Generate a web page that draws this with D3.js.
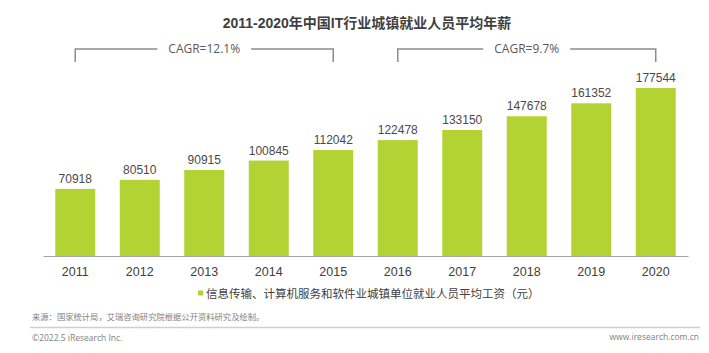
<!DOCTYPE html>
<html>
<head>
<meta charset="utf-8">
<script src="https://cdn.jsdelivr.net/npm/d3@7"></script>
<style>
  body { margin: 0; background: #fff; }
  svg { display: block; font-family: "Liberation Sans", Arial, "Noto Sans CJK SC", sans-serif; }
</style>
</head>
<body>
<div id="chart"></div>
<script>
// chart values
const years = ['2011', '2012', '2013', '2014', '2015', '2016', '2017', '2018', '2019', '2020'];
const salary = [70918, 80510, 90915, 100845, 112042, 122478, 133150, 147678, 161352, 177544];
const cagrLabels = ['CAGR=12.1%', 'CAGR=9.7%'];
const cagrSpans = [['2011', '2015'], ['2016', '2020']];

const title = '2011-2020年中国IT行业城镇就业人员平均年薪';
const legendLabel = '信息传输、计算机服务和软件业城镇单位就业人员平均工资（元）';
const sourceNote = '来源：国家统计局，艾瑞咨询研究院根据公开资料研究及绘制。';

const width = 709, height = 353;
const green = '#b3d234';
const cjk = '"Noto Sans CJK SC", "Liberation Sans", sans-serif';

const svg = d3.select('#chart').append('svg')
    .attr('width', width)
    .attr('height', height);

// scales
const x = d3.scaleBand()
    .domain(years)
    .range([43, 688])
    .paddingInner(0.38)
    .paddingOuter(0.19);
const y = d3.scaleLinear()
    .domain([0, 177544])
    .range([256, 88]);

// title
svg.append('text')
    .attr('x', 367).attr('y', 28)
    .attr('text-anchor', 'middle')
    .attr('font-family', '"Liberation Sans", Arial, "Noto Sans CJK SC", sans-serif')
    .attr('font-size', 14)
    .attr('font-weight', 'bold')
    .attr('fill', '#3f3f3f')
    .text(title);

// bars
svg.append('g').selectAll('rect')
    .data(salary)
    .join('rect')
    .attr('x', (d, i) => x(years[i]))
    .attr('y', d => y(d))
    .attr('width', x.bandwidth())
    .attr('height', d => y(0) - y(d))
    .attr('fill', green);

// value labels
svg.append('g').selectAll('text')
    .data(salary)
    .join('text')
    .attr('x', (d, i) => x(years[i]) + x.bandwidth() / 2)
    .attr('y', d => y(d) - 6)
    .attr('text-anchor', 'middle')
    .attr('font-size', 12)
    .attr('fill', '#4a4a4a')
    .text(d => d);

// x axis
const xAxis = svg.append('g')
    .attr('transform', `translate(0,${y(0)})`)
    .call(d3.axisBottom(x).tickSize(0).tickPadding(11));
xAxis.select('.domain').attr('stroke', '#a6a6a6').attr('stroke-width', 1.2);
xAxis.selectAll('text')
    .attr('font-size', 12.5)
    .attr('font-family', '"Liberation Sans", Arial, sans-serif')
    .attr('fill', '#404040');

// CAGR brackets
const bracketY = 49, tickY = 62;
cagrSpans.forEach(([a, b], i) => {
    const x0 = x(a) + x.bandwidth() / 2;
    const x1 = x(b) + x.bandwidth() / 2;
    const mid = (x0 + x1) / 2;
    const g = svg.append('g');
    const label = g.append('text')
        .attr('x', mid).attr('y', bracketY + 4)
        .attr('text-anchor', 'middle')
        .attr('font-family', '"Open Sans", "Noto Sans", sans-serif')
        .attr('font-size', 12)
        .attr('fill', '#5a5a5a')
        .text(cagrLabels[i]);
    const half = label.node().getComputedTextLength() / 2 + 11;
    g.append('path')
        .attr('d', `M${x0},${tickY}V${bracketY}H${mid - half}M${mid + half},${bracketY}H${x1}V${tickY}`)
        .attr('fill', 'none')
        .attr('stroke', '#8c8c8c')
        .attr('stroke-width', 1.5);
});

// legend
const legend = svg.append('g').attr('transform', 'translate(198,293)');
legend.append('rect')
    .attr('x', 0).attr('y', -2.5)
    .attr('width', 5).attr('height', 5)
    .attr('fill', green);
legend.append('text')
    .attr('x', 8).attr('y', 4.5)
    .attr('font-family', cjk)
    .attr('font-size', 11.5)
    .attr('fill', '#404040')
    .text(legendLabel);

// footer
svg.append('text')
    .attr('x', 32).attr('y', 319.5)
    .attr('font-family', cjk)
    .attr('font-size', 8.3)
    .attr('fill', '#7f7f7f')
    .text(sourceNote);

svg.append('line')
    .attr('x1', 30).attr('x2', 700)
    .attr('y1', 327.5).attr('y2', 327.5)
    .attr('stroke', '#cfcfcf')
    .attr('stroke-width', 1.5);

svg.append('text')
    .attr('x', 32).attr('y', 341)
    .attr('font-family', '"Open Sans", sans-serif')
    .attr('font-size', 8.5)
    .attr('fill', '#7f7f7f')
    .text('©2022.5 iResearch Inc.');

svg.append('text')
    .attr('x', 699).attr('y', 340)
    .attr('text-anchor', 'end')
    .attr('font-family', '"Open Sans", sans-serif')
    .attr('font-size', 8.5)
    .attr('fill', '#7f7f7f')
    .text('www.iresearch.com.cn');
</script>
</body>
</html>
